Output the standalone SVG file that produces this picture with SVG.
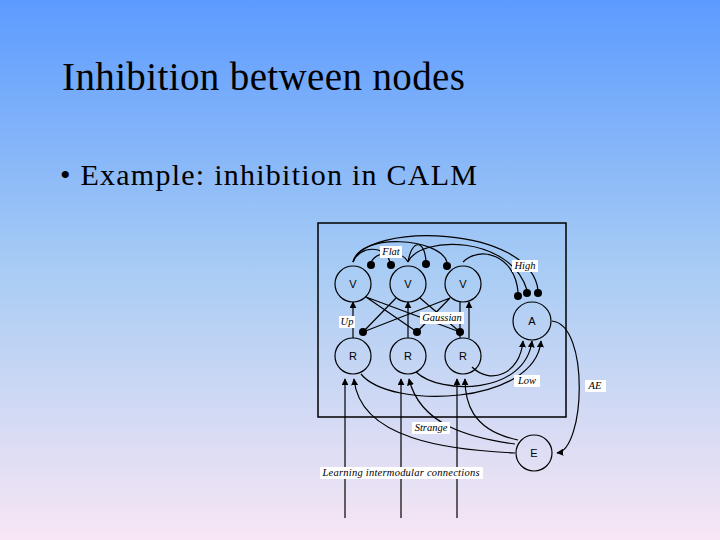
<svg xmlns="http://www.w3.org/2000/svg" width="720" height="540" viewBox="0 0 720 540">
<defs>
<linearGradient id="bg" x1="0" y1="0" x2="0" y2="1"><stop offset="0" stop-color="#5C9BFF"/><stop offset="0.5" stop-color="#A8CCF4"/><stop offset="1" stop-color="#F8E6F4"/></linearGradient>
<marker id="ar" viewBox="0 0 10 10" refX="9" refY="5" markerWidth="7" markerHeight="7" orient="auto" markerUnits="userSpaceOnUse"><path d="M0,0L10,5L0,10z" fill="#000"/></marker>
<style>
.l{fill:none;stroke:#000;stroke-width:1.2}
.n{fill:none;stroke:#000;stroke-width:1.2}
.d{fill:#000}
.t{font-family:"Liberation Sans",sans-serif;font-size:11px;text-anchor:middle}
.i{font-family:"Liberation Serif",serif;font-style:italic;font-size:10.5px;text-anchor:middle}
.lb{fill:#fff}
</style>
</defs>
<rect width="720" height="540" fill="url(#bg)"/>
<text x="62" y="90" font-family="Liberation Serif,serif" font-size="39" textLength="403">Inhibition between nodes</text>
<text x="60" y="185" font-family="Liberation Serif,serif" font-size="30" textLength="417">• Example: inhibition in CALM</text>
<rect x="318" y="223" width="248" height="194" fill="none" stroke="#000" stroke-width="1.5"/>
<g id="connectors">
<path class="l" d="M353,262 C360,232 440,238 447,262"/>
<path class="l" d="M353,262 C360,245 385,245 390,262"/>
<path class="l" d="M408,262 C402,250 378,250 371,262"/>
<path class="l" d="M408,262 C412,238 425,240 426,262"/>
<path class="l" d="M408,262 C420,235 510,235 527,290"/>
<path class="l" d="M353,262 C365,222 530,225 538,290"/>
<path class="l" d="M463,262 C480,245 515,255 518,292"/>
<circle class="d" cx="371" cy="265" r="4"/><circle class="d" cx="391" cy="265" r="4"/><circle class="d" cx="426" cy="264" r="4"/><circle class="d" cx="447" cy="266" r="4"/>
<circle class="d" cx="518" cy="296" r="4"/><circle class="d" cx="527" cy="293" r="4"/><circle class="d" cx="538" cy="293" r="4"/>
<path class="l" d="M366,297 L417,332 M366,297 L460,332 M396,298 L363,332 M420,298 L460,332 M450,298 L363,332 M450,298 L417,332"/>
<circle class="d" cx="363" cy="332" r="4"/><circle class="d" cx="417" cy="332" r="4"/><circle class="d" cx="460" cy="332" r="4"/>
<path class="l" marker-end="url(#ar)" d="M353,338 L353,302"/>
<path class="l" marker-end="url(#ar)" d="M408,338 L408,302"/>
<path class="l" marker-end="url(#ar)" d="M469,338 L469,302"/>
<path class="l" d="M460,338 L460,302"/>
<path class="l" marker-end="url(#ar)" d="M472,367 C490,385 520,375 523,341"/>
<path class="l" marker-end="url(#ar)" d="M416,372 C440,395 525,395 532,341"/>
<path class="l" marker-end="url(#ar)" d="M361,374 C390,410 535,405 541,341"/>
<path class="l" marker-end="url(#ar)" d="M552,321 C590,325 585,450 557,453"/>
<path class="l" marker-end="url(#ar)" d="M345,518 L345,379"/>
<path class="l" marker-end="url(#ar)" d="M401,518 L401,379"/>
<path class="l" marker-end="url(#ar)" d="M457,518 L457,379"/>
<path class="l" marker-end="url(#ar)" d="M515,453 C450,450 360,440 354,379"/>
<path class="l" marker-end="url(#ar)" d="M515,444 C470,438 420,425 409,379"/>
<path class="l" marker-end="url(#ar)" d="M518,440 C470,430 465,400 465,379"/>
</g>
<g id="V1"><circle class="n" cx="353" cy="284" r="18"/><text class="t" x="353" y="288">V</text></g>
<g id="V2"><circle class="n" cx="408" cy="284" r="18"/><text class="t" x="408" y="288">V</text></g>
<g id="V3"><circle class="n" cx="463" cy="284" r="18"/><text class="t" x="463" y="288">V</text></g>
<g id="R1"><circle class="n" cx="353" cy="356" r="18"/><text class="t" x="353" y="360">R</text></g>
<g id="R2"><circle class="n" cx="408" cy="356" r="18"/><text class="t" x="408" y="360">R</text></g>
<g id="R3"><circle class="n" cx="463" cy="356" r="18"/><text class="t" x="463" y="360">R</text></g>
<g id="A"><circle class="n" cx="532" cy="321" r="19"/><text class="t" x="532" y="325">A</text></g>
<g id="E"><circle class="n" cx="534" cy="453" r="18"/><text class="t" x="534" y="457">E</text></g>
<g id="labels">
<rect class="lb" x="380" y="246" width="22" height="12"/><text class="i" x="391" y="255">Flat</text>
<rect class="lb" x="512" y="260" width="26" height="12"/><text class="i" x="525" y="269">High</text>
<rect class="lb" x="339" y="316" width="16" height="12"/><text class="i" x="347" y="325">Up</text>
<rect class="lb" x="420" y="312" width="44" height="12"/><text class="i" x="442" y="321">Gaussian</text>
<rect class="lb" x="514" y="375" width="26" height="12"/><text class="i" x="527" y="384">Low</text>
<rect class="lb" x="585" y="380" width="21" height="12"/><text class="i" x="595" y="389">AE</text>
<rect class="lb" x="412" y="422" width="38" height="12"/><text class="i" x="431" y="431">Strange</text>
<rect class="lb" x="320" y="467" width="163" height="12"/><text class="i" x="401" y="476" textLength="157">Learning intermodular connections</text>
</g>
</svg>
